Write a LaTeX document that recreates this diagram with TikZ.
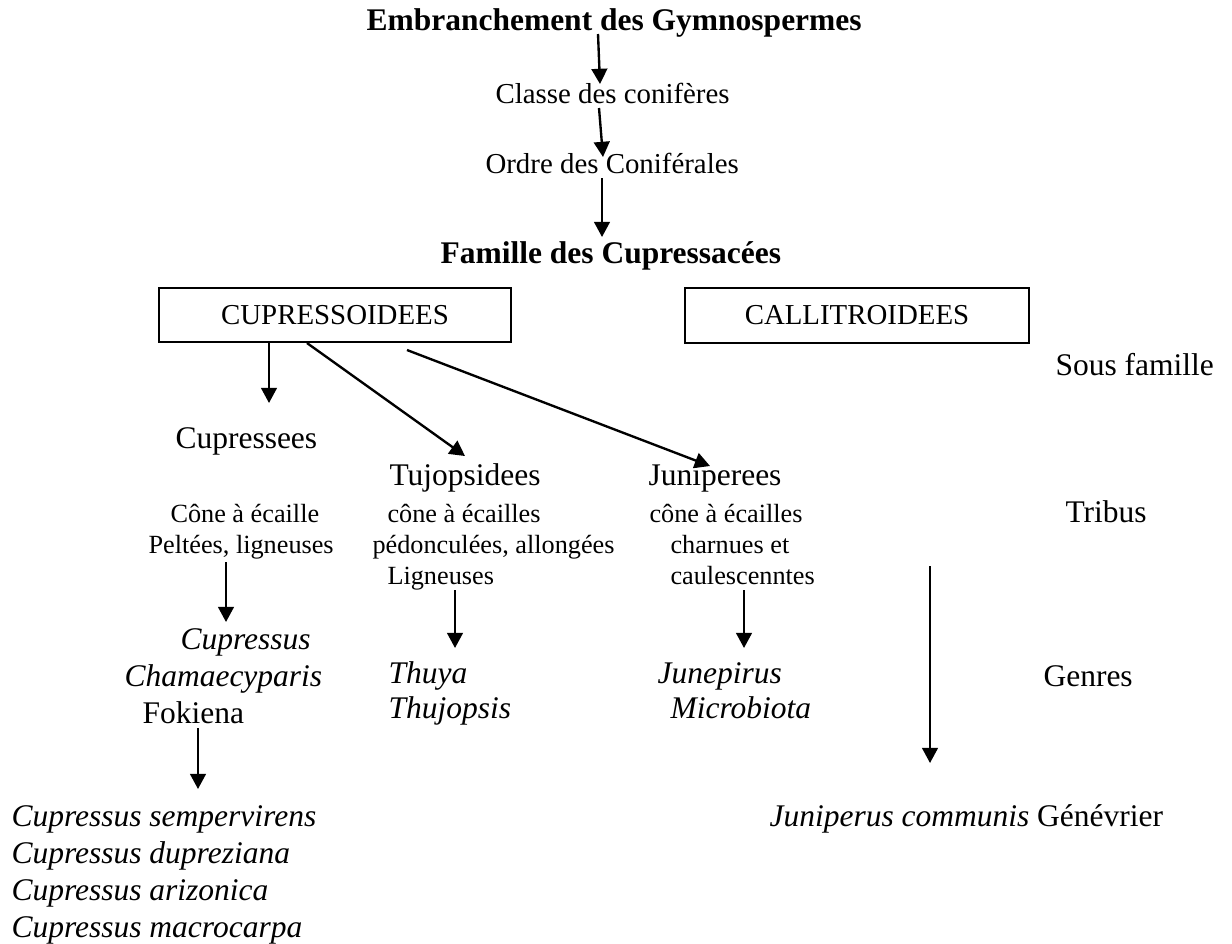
\documentclass[tikz,border=0pt]{standalone}
\usepackage{fontspec}
\setmainfont{Liberation Serif}
\usetikzlibrary{arrows.meta,calc}

\begin{document}
\begin{tikzpicture}[x=0.381pt,y=-0.381pt,
        every node/.style={inner sep=0pt,anchor=base west},
        titre/.style={font=\fontsize{12}{14}\selectfont\bfseries},
        rang/.style={font=\fontsize{11}{13}\selectfont},
        tribu/.style={font=\fontsize{12}{14}\selectfont},
        desc/.style={font=\fontsize{10}{12}\selectfont},
        genre/.style={font=\fontsize{12}{14}\selectfont\itshape},
        boite/.style={draw,line width=0.75pt,anchor=center,minimum height=20.6pt,
            font=\fontsize{11}{13}\selectfont},
        fleche/.style={-{Triangle[length=5.8pt,width=6pt]},line width=0.9pt}]
        \useasboundingbox (0,0) rectangle (1232,943);
        % Haut : embranchement -> famille
        \node[titre] (emb) at (366,30) {Embranchement des Gymnospermes};
        \node[rang] (classe) at (495,103) {Classe des conifères};
        \node[rang] (ordre) at (485,173) {Ordre des Coniférales};
        \node[titre] (famille) at (440,263) {Famille des Cupressacées};
        \draw[fleche] ($(emb.base west)+(232,4)$) -- ($(classe.base west)+(105,-19)$);
        \draw[fleche] ($(classe.base west)+(104,5)$) -- ($(ordre.base west)+(118,-16)$);
        \draw[fleche] ($(ordre.base west)+(117,5)$) -- ($(famille.base west)+(162,-26)$);
        % Sous familles
        \node[boite,minimum width=134.1pt] (cupr) at (335,315) {CUPRESSOIDEES};
        \node[boite,minimum width=131.1pt] (call) at (857,315.5) {CALLITROIDEES};
        \node[tribu] (sousfam) at (1055,375) {Sous famille};
        % Tribus
        \node[tribu] (cupressees) at (175,448) {Cupressees};
        \node[tribu] (tujo) at (389,485) {Tujopsidees};
        \node[tribu] (juni) at (648,485) {Juniperees};
        \node[tribu] (tribus) at (1065,522) {Tribus};
        \draw[fleche] ($(cupr.south)+(-66,0)$) -- ($(cupressees.base west)+(94,-45)$);
        \draw[fleche] ($(cupr.south)+(-28,0)$) -- ($(tujo.base west)+(76,-29)$);
        \draw[fleche] ($(cupr.south)+(72,7)$) -- ($(juni.base west)+(62,-19)$);
        % Caracteres des cones
        \node[desc] (d11) at (170,522) {Cône à écaille};
        \node[desc] (d12) at (148,553) {Peltées, ligneuses};
        \node[desc] (d21) at (387,522) {cône à écailles};
        \node[desc] (d22) at (372,553) {pédonculées, allongées};
        \node[desc] (d23) at (387,584) {Ligneuses};
        \node[desc] (d31) at (649,522) {cône à écailles};
        \node[desc] (d32) at (670,553) {charnues et};
        \node[desc] (d33) at (670,584) {caulescenntes};
        % Genres
        \node[genre] (g11) at (180,649) {Cupressus};
        \node[genre] (g12) at (124,686) {Chamaecyparis};
        \node[tribu] (g13) at (142,723) {Fokiena};
        \node[genre] (g21) at (388,683) {Thuya};
        \node[genre] (g22) at (388,718) {Thujopsis};
        \node[genre] (g31) at (657,683) {Junepirus};
        \node[genre] (g32) at (670,718) {Microbiota};
        \node[tribu] (genres) at (1043,686) {Genres};
        \draw[fleche] ($(d12.base west)+(78,9)$) -- ($(g11.base west)+(46,-27)$);
        \draw[fleche] ($(d23.base west)+(68,6)$) -- ($(g21.base west)+(67,-35)$);
        \draw[fleche] ($(d33.base west)+(74,6)$) -- ($(g31.base west)+(87,-35)$);
        % Especes
        \node[genre] (s1) at (11,826) {Cupressus sempervirens};
        \node[genre] (s2) at (11,863) {Cupressus dupreziana};
        \node[genre] (s3) at (11,900) {Cupressus arizonica};
        \node[genre] (s4) at (11,937) {Cupressus macrocarpa};
        \node[genre] (jc) at (769,826) {Juniperus communis \upshape Génévrier};
        \coordinate (depart) at (930,566);
        \draw[fleche] ($(g13.base west)+(56,5)$) -- ($(s1.base west)+(187,-37)$);
        \draw[fleche] (depart) -- ($(jc.base west)+(161,-63)$);
\end{tikzpicture}
\end{document}
